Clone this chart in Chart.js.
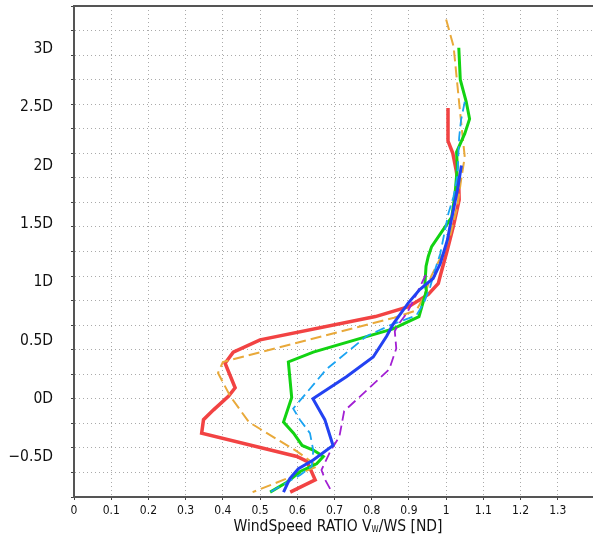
<!DOCTYPE html>
<html>
<head>
<meta charset="utf-8">
<script src="https://cdn.jsdelivr.net/npm/chart.js@4.4.1/dist/chart.umd.min.js"></script>
<style>
  body { margin: 0; background: #fff; overflow: hidden; }
  #wrap { position: relative; width: 593px; height: 539px; overflow: hidden; }
  #xtitle {
    position: absolute; left: 338px; top: 517px; transform: translateX(-50%);
    white-space: nowrap; font-family: 'DejaVu Sans Condensed', 'Liberation Sans Narrow', 'DejaVu Sans', sans-serif;
    font-size: 15.5px; color: #111;
  }
  #xtitle sub { font-size: 8px; vertical-align: -1px; }
</style>
</head>
<body>
<div id="wrap">
  <canvas id="windChart" width="600" height="539"></canvas>
  <div id="xtitle">WindSpeed RATIO V<sub>W</sub>/WS [ND]</div>
</div>
<script>
// heights in m, 0D = hub, 1D = 95 m
const yLabelText = ["−0.5D", "0D", "0.5D", "1D", "1.5D", "2D", "2.5D", "3D"];
const yLabelHeight = [32.5, 80, 127.5, 175, 222.5, 270, 317.5, 365];
const yGridHeight = [0, 20, 40, 60, 80, 100, 120, 140, 160, 180, 200, 220, 240, 260, 280, 300, 320, 340, 360, 380, 400];

const redRatio = [1.005, 1.005, 1.018, 1.027, 1.034, 1.035, 1.027, 1.019, 1.003, 0.984, 0.979, 0.952, 0.899, 0.81, 0.5, 0.428, 0.406, 0.433, 0.415, 0.375, 0.348, 0.343, 0.599, 0.626, 0.648, 0.581];
const redHeight = [317, 290, 280, 266, 253, 242, 231, 220, 201, 180, 174, 165, 155, 147, 128, 118, 109, 89, 82, 71, 63, 52, 33, 29, 14, 4];

const orangeRatio = [1.0, 1.02, 1.036, 1.05, 1.04, 1.03, 1.01, 0.99, 0.96, 0.94, 0.92, 0.86, 0.40, 0.387, 0.42, 0.47, 0.6, 0.655, 0.48];
const orangeHeight = [389, 367, 318, 277, 258, 236, 212, 198, 180, 163, 152, 146, 110, 101, 82, 61, 37, 25, 4];

const greenRatio = [1.034, 1.038, 1.054, 1.063, 1.05, 1.028, 1.03, 1.024, 1.015, 0.988, 0.961, 0.952, 0.946, 0.943, 0.947, 0.927, 0.857, 0.643, 0.576, 0.585, 0.563, 0.59, 0.613, 0.644, 0.67, 0.652, 0.609, 0.572, 0.527];
const greenHeight = [366, 340, 322, 308, 296, 281, 269, 247, 228, 216, 204, 196, 188, 174, 168, 147, 137, 118, 110, 81, 61, 52, 42, 38, 33, 27, 21, 12, 4];

const lightBlueRatio = [1.05, 1.04, 1.035, 1.033, 1.03, 1.02, 1.006, 0.984, 0.97, 0.957, 0.94, 0.92, 0.85, 0.786, 0.678, 0.589, 0.607, 0.634, 0.643, 0.639, 0.608, 0.527];
const lightBlueHeight = [322, 307, 293, 280, 261, 245, 231, 198, 185, 171, 158, 148, 140, 131, 104, 72, 63, 52, 38, 25, 18, 4];

const blueRatio = [1.041, 1.032, 1.021, 1.012, 1.003, 0.995, 0.984, 0.965, 0.929, 0.898, 0.858, 0.84, 0.804, 0.732, 0.642, 0.674, 0.696, 0.642, 0.603, 0.58, 0.563];
const blueHeight = [270, 253, 236, 223, 209, 201, 190, 178, 169, 158, 141, 131, 114, 98, 80, 63, 42, 30, 23, 15, 4];

const purpleRatio = [0.945, 0.92, 0.895, 0.87, 0.862, 0.866, 0.847, 0.787, 0.726, 0.713, 0.69, 0.665, 0.675, 0.693];
const purpleHeight = [181, 165, 150, 140, 135, 121, 104, 87, 70, 49, 38, 22, 14, 4];

const fontFamily = "'DejaVu Sans Condensed', 'Liberation Sans Narrow', 'DejaVu Sans', sans-serif";

function toPoints(xs, hs) {
    return xs.map((x, i) => ({ x: x, y: hs[i] }));
}

function line(data, color, width, dash) {
    return {
        data: data,
        borderColor: color,
        backgroundColor: color,
        borderWidth: width,
        borderDash: dash,
        pointRadius: 0,
        tension: 0,
        fill: false,
        xAxisID: "x",
        yAxisID: "y",
    };
}

const datasets = [
    line(toPoints(blueRatio, blueHeight), "#2342f2", 3, []),
    line(toPoints(lightBlueRatio, lightBlueHeight), "#1aa3f2", 1.8, [10, 5]),
    line(toPoints(purpleRatio, purpleHeight), "#a21fd3", 1.8, [10, 5]),
    line(toPoints(greenRatio, greenHeight), "#12d312", 3, []),
    line(toPoints(orangeRatio, orangeHeight), "#e9a93a", 2, [11, 5]),
    line(toPoints(redRatio, redHeight), "#f24343", 3.5, []),
];

const isGrid = (v) => yGridHeight.includes(v);

new Chart(document.getElementById("windChart"), {
    type: "line",
    data: { datasets: datasets },
    options: {
        responsive: false,
        animation: false,
        layout: { padding: { top: 0, right: 5, left: 0, bottom: 0 } },
        plugins: { legend: { display: false }, tooltip: { enabled: false } },
        scales: {
            x: {
                type: "linear",
                position: "bottom",
                min: 0,
                max: 1.4,
                afterFit: (s) => { s.height = 42; s.paddingLeft = 0; s.paddingRight = 0; },
                ticks: {
                    stepSize: 0.1,
                    autoSkip: false,
                    maxRotation: 0,
                    padding: 4,
                    color: "#111",
                    font: { family: fontFamily, size: 12 },
                    callback: (v) => (v > 1.35 ? "" : String(Number(v.toFixed(1)))),
                },
                grid: {
                    color: "#aaaaaa",
                    lineWidth: 1,
                    tickLength: 3,
                    tickColor: "#444",
                },
                border: { display: true, color: "#555", width: 2, dash: [1, 3] },
            },
            xTop: {
                type: "linear",
                position: "top",
                min: 0,
                max: 1.4,
                afterFit: (s) => { s.height = 6; s.paddingLeft = 0; s.paddingRight = 0; },
                ticks: { display: false },
                grid: { display: false, drawTicks: false },
                border: { display: true, color: "#555", width: 2 },
            },
            y: {
                type: "linear",
                position: "left",
                min: 0,
                max: 400,
                afterFit: (s) => { s.width = 74; s.paddingTop = 0; s.paddingBottom = 0; },
                afterBuildTicks: (s) => {
                    const vals = Array.from(new Set(yGridHeight.concat(yLabelHeight))).sort((a, b) => a - b);
                    s.ticks = vals.map((v) => ({ value: v }));
                },
                ticks: {
                    autoSkip: false,
                    padding: 18,
                    color: "#111",
                    font: { family: fontFamily, size: 15.5 },
                    callback: (v) => {
                        const i = yLabelHeight.indexOf(v);
                        return i >= 0 ? yLabelText[i] : "";
                    },
                },
                grid: {
                    color: (ctx) => (ctx.tick && isGrid(ctx.tick.value) ? "#aaaaaa" : "rgba(0,0,0,0)"),
                    tickColor: (ctx) => (ctx.tick && isGrid(ctx.tick.value) ? "#444" : "rgba(0,0,0,0)"),
                    lineWidth: 1,
                    tickLength: 3,
                },
                border: { display: true, color: "#555", width: 2, dash: [1, 3] },
            },
        },
    },
});
</script>
</body>
</html>
